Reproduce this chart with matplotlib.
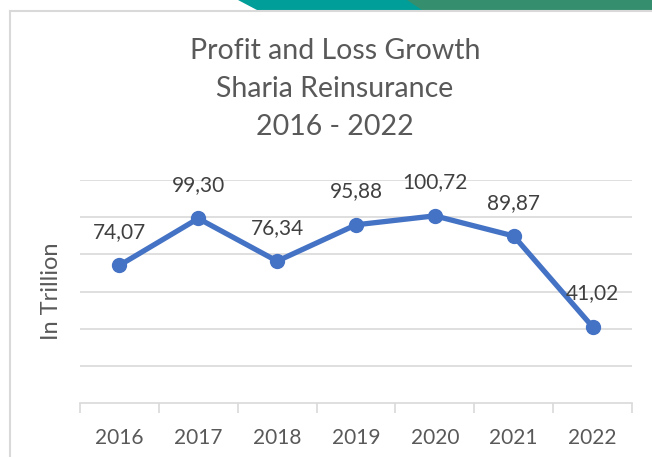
import matplotlib.pyplot as plt
from matplotlib.patches import Polygon
from matplotlib.lines import Line2D

years = ["2016", "2017", "2018", "2019", "2020", "2021", "2022"]
values = [74.07, 99.30, 76.34, 95.88, 100.72, 89.87, 41.02]
labels = ["74,07", "99,30", "76,34", "95,88", "100,72", "89,87", "41,02"]

plt.rcParams['font.family'] = ['Lato', 'DejaVu Sans']

W, H = 652, 457
fig = plt.figure(figsize=(W / 100, H / 100), dpi=100)
fig.patch.set_facecolor("white")

# decorative band at the top and the frame of the chart area
def px(x, y):
    return (x / W, 1 - y / H)

fig.patches.append(Polygon([px(238, 0), px(410, 0), px(424, 10), px(257, 10)],
                           closed=True, transform=fig.transFigure,
                           facecolor="#009E98", edgecolor="none"))
fig.patches.append(Polygon([px(407, 0), px(652, 0), px(652, 10), px(422, 10)],
                           closed=True, transform=fig.transFigure,
                           facecolor="#358F6E", edgecolor="none"))
fig.lines.append(Line2D([10 / W, 1], [1 - 11 / H] * 2, transform=fig.transFigure,
                        color="#d9d9d9", lw=1.5))
fig.lines.append(Line2D([10 / W] * 2, [0, 1 - 11 / H], transform=fig.transFigure,
                        color="#d9d9d9", lw=1.5))

ax = fig.add_axes([80 / W, 1 - 403 / H, 552 / W, 223 / H])
x = list(range(len(years)))
ax.plot(x, values, color="#4472C4", lw=3.8, marker="o", markersize=10,
        solid_capstyle="round", zorder=3)

for xi, v, lab in zip(x, values, labels):
    ax.annotate(lab, (xi, v), xytext=(0, 24), textcoords="offset points",
                ha="center", va="center", fontsize=15, color="#404040")

ax.set_xlim(-0.5, len(years) - 0.5)
ax.set_ylim(0, 120)
ax.set_yticks([20, 40, 60, 80, 100, 120])
ax.yaxis.grid(True, color="#d9d9d9", lw=1.2)
ax.tick_params(axis="y", length=0, labelleft=False)
for s in ["top", "right", "left"]:
    ax.spines[s].set_visible(False)
ax.spines["bottom"].set_color("#d9d9d9")
ax.spines["bottom"].set_linewidth(1.2)

ax.set_xticks([i - 0.5 for i in range(len(years) + 1)])
ax.set_xticklabels([])
ax.set_xticks(x, minor=True)
ax.set_xticklabels(years, minor=True)
ax.tick_params(axis="x", which="major", length=7, color="#d9d9d9", width=1.2)
ax.tick_params(axis="x", which="minor", length=0, pad=18, labelsize=15,
               labelcolor="#595959")

ax.set_ylabel("In Trillion", fontsize=17, color="#595959", labelpad=13)

fig.text(335 / W, 1 - 89 / H, "Profit and Loss Growth\nSharia Reinsurance\n2016 - 2022",
         ha="center", va="center", fontsize=20.5, color="#595959", linespacing=1.55)

fig.savefig("out.png", dpi=100)
